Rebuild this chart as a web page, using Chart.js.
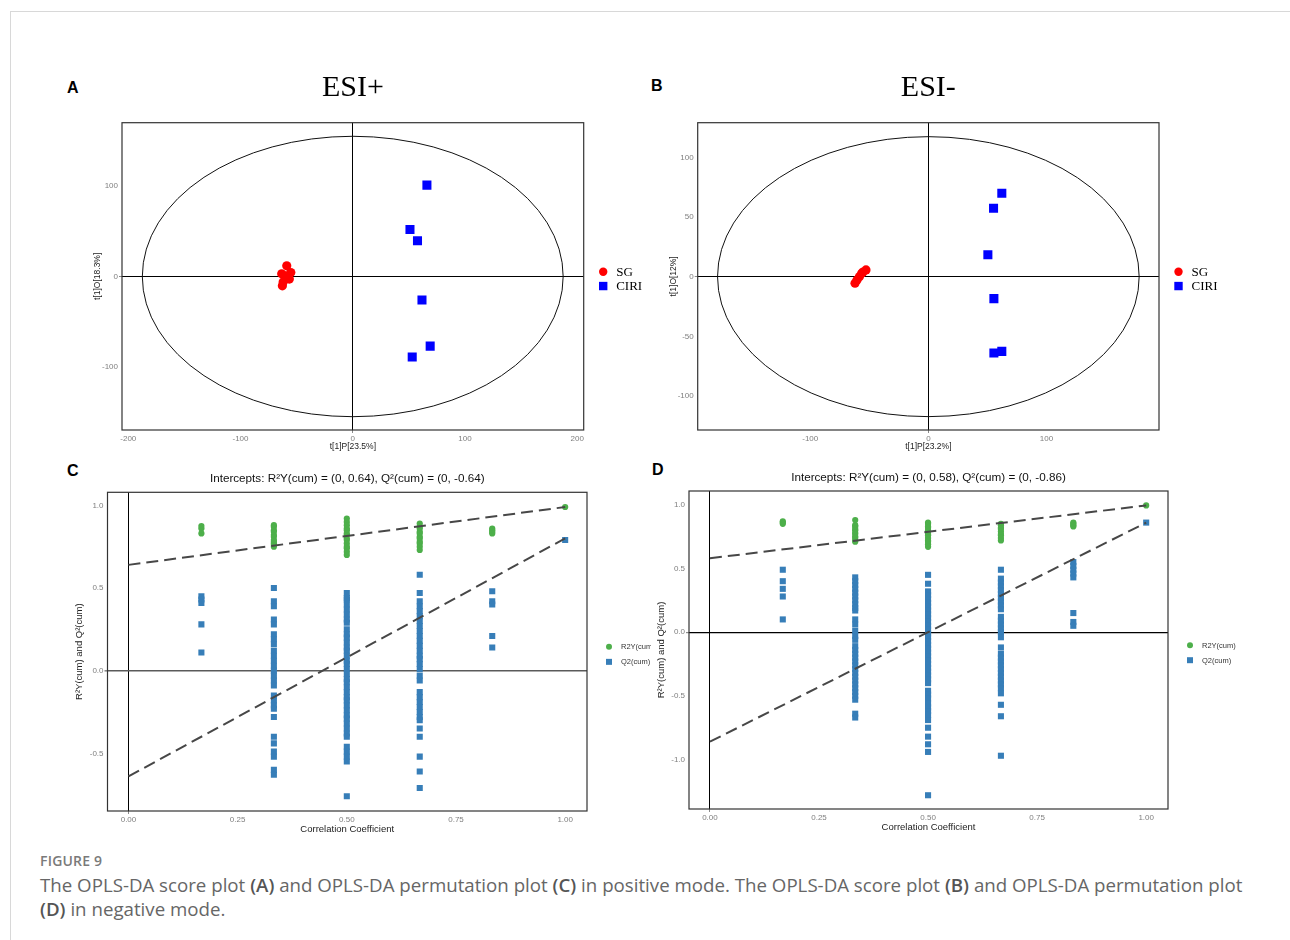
<!DOCTYPE html>
<html>
<head>
<meta charset="utf-8">
<script src="https://cdn.jsdelivr.net/npm/chart.js@4.4.1/dist/chart.umd.min.js"></script>
<style>
  body { margin: 0; width: 1290px; height: 940px; background: #fff; position: relative; overflow: hidden; font-family: "Liberation Sans", Arial, sans-serif; }
  .frame { position: absolute; left: 10px; top: 11px; width: 1300px; height: 1000px; border: 1px solid #d8d8d8; }
  .panel { position: absolute; }
  .tag { position: absolute; font: bold 16px "Liberation Sans", Arial, sans-serif; color: #000; line-height: 16px; }
  .fig { position: absolute; left: 40px; top: 852px; font: 600 14px "Open Sans", sans-serif; color: #7a7a7a; line-height: 18px; letter-spacing: 0.2px; }
  .cap { position: absolute; left: 40px; top: 873px; font: 18.7px "Open Sans", sans-serif; color: #666; line-height: 24px; white-space: nowrap; }
  .cap b { color: #555; font-weight: 600; }
</style>
</head>
<body>
<div class="frame"></div>

<div class="tag" style="left:67px;top:80px">A</div>
<div class="tag" style="left:651px;top:78px">B</div>
<div class="tag" style="left:67px;top:463px">C</div>
<div class="tag" style="left:652px;top:462px">D</div>

<div class="panel" style="left:60px;top:60px;width:590px;height:400px"><canvas id="chartA"></canvas></div>
<div class="panel" style="left:645px;top:60px;width:600px;height:400px"><canvas id="chartB"></canvas></div>
<div class="panel" style="left:60px;top:455px;width:591px;height:390px"><canvas id="chartC"></canvas></div>
<div class="panel" style="left:651px;top:455px;width:600px;height:390px"><canvas id="chartD"></canvas></div>

<div class="fig">FIGURE 9</div>
<div class="cap">The OPLS-DA score plot <b>(A)</b> and OPLS-DA permutation plot <b>(C)</b> in positive mode. The OPLS-DA score plot <b>(B)</b> and OPLS-DA permutation plot<br><b>(D)</b> in negative mode.</div>

<script>
// score plot, ESI+
const posSG_P = [-58.8, -63.3, -55.2, -56.5, -62.0, -62.7, -60.3];
const posSG_O = [11.8, 3.0, 4.4, -2.9, -6.0, -10.3, 0.8];
const posCIRI_P = [66.1, 51.0, 57.7, 61.7, 69.0, 53.0];
const posCIRI_O = [101, 52, 39.5, -26, -77, -89];
const posEllipse = [187.5, 155];

// score plot, ESI-
const negSG_P = [-52.8, -55.3, -56.4, -58.4, -60.4, -62.1];
const negSG_O = [5.6, 3.9, 2.8, 0, -2.8, -5.5];
const negCIRI_P = [62.2, 55.2, 50.4, 55.5, 62.2, 55.5];
const negCIRI_O = [69.8, 57.3, 18.4, -18.4, -62.6, -64];
const negEllipse = [178.5, 117.3];

// tick labels
const posScoreXTicks = [-200, -100, 0, 100, 200];
const posScoreYTicks = [-100, 0, 100];
const negScoreXTicks = [-100, 0, 100];
const negScoreYTicks = [-100, -50, 0, 50, 100];
const permXTicks = [0, 0.25, 0.5, 0.75, 1];
const posPermYTicks = [-0.5, 0, 0.5, 1];
const negPermYTicks = [-1, -0.5, 0, 0.5, 1];

// permutation plots
const permX = [0.167, 0.333, 0.5, 0.667, 0.833, 1.0];
const lineX = [0, 1];

const posR2Y = [
  [0.875, 0.86, 0.83],
  [0.88, 0.87, 0.85, 0.84, 0.82, 0.81, 0.79, 0.78, 0.77, 0.76, 0.75],
  [0.92, 0.90, 0.88, 0.86, 0.85, 0.83, 0.82, 0.80, 0.79, 0.77, 0.75, 0.74, 0.72, 0.70],
  [0.89, 0.87, 0.86, 0.84, 0.83, 0.81, 0.80, 0.78, 0.77, 0.75, 0.73],
  [0.86, 0.85, 0.84, 0.83],
  [0.99]
];
const posQ2 = [
  [0.45, 0.43, 0.41, 0.28, 0.11],
  [0.50, 0.42, 0.39, 0.31, 0.28, 0.22, 0.19, 0.16, 0.12, 0.09, 0.06, 0.03, 0.0, -0.03, -0.06, -0.09,
   -0.15, -0.18, -0.21, -0.23, -0.28, -0.40, -0.44, -0.49, -0.52, -0.60, -0.63],
  [0.47, 0.44, 0.43, 0.40, 0.37, 0.34, 0.31, 0.29, 0.25, 0.22, 0.20, 0.17, 0.14, 0.12, 0.09, 0.06,
   0.04, 0.01, -0.02, -0.05, -0.07, -0.10, -0.13, -0.16, -0.18, -0.21, -0.24, -0.27, -0.29, -0.32,
   -0.35, -0.38, -0.40, -0.46, -0.49, -0.52, -0.55, -0.76],
  [0.58, 0.47, 0.42, 0.39, 0.36, 0.33, 0.30, 0.27, 0.24, 0.21, 0.18, 0.15, 0.12, 0.09, 0.07, 0.04,
   0.01, -0.03, -0.06, -0.13, -0.16, -0.19, -0.22, -0.25, -0.28, -0.30, -0.35, -0.40, -0.52, -0.61, -0.71],
  [0.48, 0.42, 0.40, 0.21, 0.14],
  [0.79]
];
const posR2Line = [0.64, 0.99];
const posQ2Line = [-0.64, 0.80];

const negR2Y = [
  [0.87, 0.86, 0.85],
  [0.88, 0.84, 0.83, 0.81, 0.80, 0.78, 0.77, 0.75, 0.74, 0.72, 0.71],
  [0.86, 0.85, 0.83, 0.82, 0.80, 0.79, 0.77, 0.76, 0.74, 0.72, 0.71, 0.69, 0.67],
  [0.85, 0.84, 0.82, 0.81, 0.79, 0.77, 0.76, 0.74, 0.72],
  [0.86, 0.85, 0.84, 0.83],
  [0.995]
];
const negQ2 = [
  [0.49, 0.40, 0.34, 0.28, 0.10],
  [0.43, 0.40, 0.37, 0.34, 0.31, 0.28, 0.25, 0.22, 0.19, 0.17, 0.10, 0.06, 0.01, -0.03, -0.06,
   -0.11, -0.14, -0.17, -0.20, -0.23, -0.26, -0.29, -0.32, -0.35, -0.38, -0.41, -0.44, -0.47, -0.50,
   -0.53, -0.64, -0.67],
  [0.45, 0.38, 0.32, 0.29, 0.26, 0.23, 0.20, 0.17, 0.14, 0.11, 0.08, 0.05, 0.02, -0.01, -0.04, -0.07,
   -0.10, -0.13, -0.16, -0.19, -0.22, -0.25, -0.28, -0.31, -0.34, -0.37, -0.40, -0.46, -0.49, -0.52,
   -0.56, -0.59, -0.62, -0.65, -0.69, -0.75, -0.82, -0.88, -0.94, -1.28],
  [0.49, 0.42, 0.39, 0.36, 0.33, 0.30, 0.27, 0.24, 0.21, 0.18, 0.12, 0.09, 0.06, 0.03, 0.00, -0.04,
   -0.12, -0.17, -0.20, -0.23, -0.26, -0.29, -0.32, -0.35, -0.38, -0.41, -0.44, -0.48, -0.57, -0.66, -0.97],
  [0.55, 0.52, 0.49, 0.46, 0.43, 0.15, 0.08, 0.05],
  [0.86]
];
const negR2Line = [0.58, 0.995];
const negQ2Line = [-0.86, 0.86];

const SANS = '"Liberation Sans", Arial, sans-serif';
const SERIF = '"Liberation Serif", "Times New Roman", serif';

const pts = (xs, ys) => xs.map((x, i) => ({x: x, y: ys[i]}));
const perm = groups => groups.flatMap((g, i) => g.map(v => ({x: permX[i], y: v})));

// frame, ellipse and legend drawn against the chart's own scales
const panelPlugin = {
  id: 'panel',
  beforeDatasetsDraw(chart, args, o) {
    if (!o.ellipse) return;
    const {ctx, scales: {x, y}} = chart;
    const cx = x.getPixelForValue(0), cy = y.getPixelForValue(0);
    const rx = Math.abs(x.getPixelForValue(o.ellipse[0]) - cx);
    const ry = Math.abs(y.getPixelForValue(o.ellipse[1]) - cy);
    ctx.save();
    ctx.beginPath();
    ctx.ellipse(cx, cy, rx, ry, 0, 0, Math.PI * 2);
    ctx.strokeStyle = '#111';
    ctx.lineWidth = 1;
    ctx.stroke();
    ctx.restore();
  },
  afterDatasetsDraw(chart, args, o) {
    const {ctx, chartArea: a} = chart;
    ctx.save();
    ctx.strokeStyle = o.boxColor;
    ctx.lineWidth = 1.2;
    ctx.strokeRect(a.left, a.top, a.right - a.left, a.bottom - a.top);
    const mid = (a.top + a.bottom) / 2;
    chart.data.datasets.filter(d => !d.showLine).forEach((d, i) => {
      const x = a.right + o.legendDx, y = mid + o.legendDy[i];
      ctx.fillStyle = d.backgroundColor;
      ctx.beginPath();
      if (d.pointStyle === 'rect') ctx.rect(x - o.legendR, y - o.legendR, o.legendR * 2, o.legendR * 2);
      else ctx.arc(x, y, o.legendR, 0, Math.PI * 2);
      ctx.fill();
      ctx.fillStyle = o.legendColor;
      ctx.font = o.legendFont;
      ctx.textAlign = 'left';
      ctx.textBaseline = 'middle';
      ctx.fillText(d.label, a.right + o.legendTx, y + 0.5);
    });
    ctx.restore();
  }
};

function zeroGrid(zeroColor, zeroWidth) {
  return {
    color: c => (c.tick && Math.abs(c.tick.value) < 1e-9) ? zeroColor : 'rgba(0,0,0,0)',
    lineWidth: c => (c.tick && Math.abs(c.tick.value) < 1e-9) ? zeroWidth : 0,
    tickColor: '#8a8a8a',
    tickLength: 3,
    drawTicks: true
  };
}

function axis(cfg) {
  return {
    type: 'linear',
    min: cfg.min, max: cfg.max,
    border: {display: false},
    grid: zeroGrid(cfg.zeroColor || '#000', cfg.zeroWidth || 1),
    ticks: {
      padding: 1, autoSkip: false,
      color: '#7f7f7f', font: {family: SANS, size: 8},
      callback: cfg.fmt || (v => v)
    },
    afterBuildTicks: s => { s.ticks = cfg.ticks.map(v => ({value: v})); },
    title: {display: true, text: cfg.title, color: '#222', font: {family: SANS, size: cfg.titleSize}, padding: cfg.titlePad},
    afterFit: cfg.fit
  };
}

function scorePlot(id, sgP, sgO, ciriP, ciriO, ell, xr, yr, xt, yt, xTitle, yTitle, title, pad, yWidth, yTitlePad) {
  new Chart(document.getElementById(id), {
    type: 'scatter',
    data: {
      datasets: [
        {label: 'SG', data: pts(sgP, sgO), pointStyle: 'circle', pointRadius: 4.6, borderWidth: 0,
         backgroundColor: '#ff0000', borderColor: '#ff0000'},
        {label: 'CIRI', data: pts(ciriP, ciriO), pointStyle: 'rect', pointRadius: 6.4, borderWidth: 0,
         backgroundColor: '#0000ff', borderColor: '#0000ff'}
      ]
    },
    options: {
      responsive: true, maintainAspectRatio: false, animation: false,
      layout: {padding: {left: 0, top: 0, right: pad, bottom: 0}},
      plugins: {
        legend: {display: false}, tooltip: {enabled: false},
        title: {display: true, text: title, fullSize: false, color: '#000',
                font: {family: SERIF, size: 30, weight: 'normal'}, padding: {top: 10, bottom: 16.7}},
        panel: {ellipse: ell, boxColor: '#333', legendDx: 19.5, legendTx: 32.5, legendDy: [-4.6, 9.7],
                legendR: 4.2, legendColor: '#000', legendFont: '13px ' + SERIF}
      },
      scales: {
        x: axis({min: xr[0], max: xr[1], ticks: xt, title: xTitle, titleSize: 8.5,
                 titlePad: {top: 0, bottom: 8.2}, fit: s => { s.height = 30; }}),
        y: axis({min: yr[0], max: yr[1], ticks: yt, title: yTitle, titleSize: 8.5,
                 titlePad: {top: yTitlePad, bottom: 0}, fit: s => { s.width = yWidth; }})
      }
    },
    plugins: [panelPlugin]
  });
}

function permPlot(id, r2, q2, r2Line, q2Line, yr, yt, title, l) {
  new Chart(document.getElementById(id), {
    type: 'scatter',
    data: {
      datasets: [
        {label: 'R2Y line', data: pts(lineX, r2Line), showLine: true, pointRadius: 0, order: 0,
         borderColor: '#474747', borderWidth: 2, borderDash: [12, 6], backgroundColor: '#474747'},
        {label: 'Q2 line', data: pts(lineX, q2Line), showLine: true, pointRadius: 0, order: 0,
         borderColor: '#474747', borderWidth: 2, borderDash: [12, 6], backgroundColor: '#474747'},
        {label: 'R2Y(cum)', data: perm(r2), pointStyle: 'circle', pointRadius: 3.1, borderWidth: 0, order: 1,
         backgroundColor: '#4daf4a', borderColor: '#4daf4a'},
        {label: 'Q2(cum)', data: perm(q2), pointStyle: 'rect', pointRadius: 4.3, borderWidth: 0, order: 2,
         backgroundColor: '#377eb8', borderColor: '#377eb8'}
      ]
    },
    options: {
      responsive: true, maintainAspectRatio: false, animation: false,
      layout: {padding: {left: 0, top: 0, right: l.padRight, bottom: 0}},
      plugins: {
        legend: {display: false}, tooltip: {enabled: false},
        title: {display: true, text: title, fullSize: false, color: '#111',
                font: {family: SANS, size: 11.7, weight: 'normal'}, padding: {top: l.titleTop, bottom: l.titleBottom}},
        panel: {boxColor: '#333', legendDx: 22, legendTx: 34, legendDy: [-4.8, 10.2],
                legendR: 3, legendColor: '#333', legendFont: '7.5px ' + SANS}
      },
      scales: {
        x: axis({min: -0.048, max: 1.05, ticks: permXTicks, fmt: v => Number(v).toFixed(2),
                 title: 'Correlation Coefficient', titleSize: 9.5,
                 titlePad: {top: 0, bottom: l.xTitleBottom}, fit: s => { s.height = l.xHeight; }}),
        y: axis({min: yr[0], max: yr[1], ticks: yt, fmt: v => Number(v).toFixed(1),
                 title: 'R\u00b2Y(cum) and Q\u00b2(cum)', titleSize: 9.5, zeroColor: l.zeroColor, zeroWidth: l.zeroWidth,
                 titlePad: {top: l.yTitleTop, bottom: 0}, fit: s => { s.width = l.yWidth; }})
      }
    },
    plugins: [panelPlugin]
  });
}

scorePlot('chartA', posSG_P, posSG_O, posCIRI_P, posCIRI_O, posEllipse,
  [-205.6, 205.8], [-169.7, 170], posScoreXTicks, posScoreYTicks,
  't[1]P[23.5%]', 't[1]O[18.3%]', 'ESI+', 66.3, 62, 32.5);
scorePlot('chartB', negSG_P, negSG_O, negCIRI_P, negCIRI_O, negEllipse,
  [-195.3, 195.3], [-128.5, 129], negScoreXTicks, negScoreYTicks,
  't[1]P[23.2%]', 't[1]O[12%]', 'ESI-', 86, 52.7, 23.1);

permPlot('chartC', posR2Y, posQ2, posR2Line, posQ2Line, [-0.849, 1.079], posPermYTicks,
  'Intercepts: R\u00b2Y(cum) = (0, 0.64), Q\u00b2(cum) = (0, -0.64)',
  {padRight: 64, titleTop: 17, titleBottom: 6.26, xTitleBottom: 10.3, xHeight: 34,
   yTitleTop: 13.3, yWidth: 47.5, zeroColor: '#5a5a5a', zeroWidth: 1.6});
permPlot('chartD', negR2Y, negQ2, negR2Line, negQ2Line, [-1.388, 1.108], negPermYTicks,
  'Intercepts: R\u00b2Y(cum) = (0, 0.58), Q\u00b2(cum) = (0, -0.86)',
  {padRight: 83, titleTop: 16, titleBottom: 5.96, xTitleBottom: 12.3, xHeight: 36,
   yTitleTop: 4.3, yWidth: 38, zeroColor: '#000', zeroWidth: 1.2});
</script>
</body>
</html>
